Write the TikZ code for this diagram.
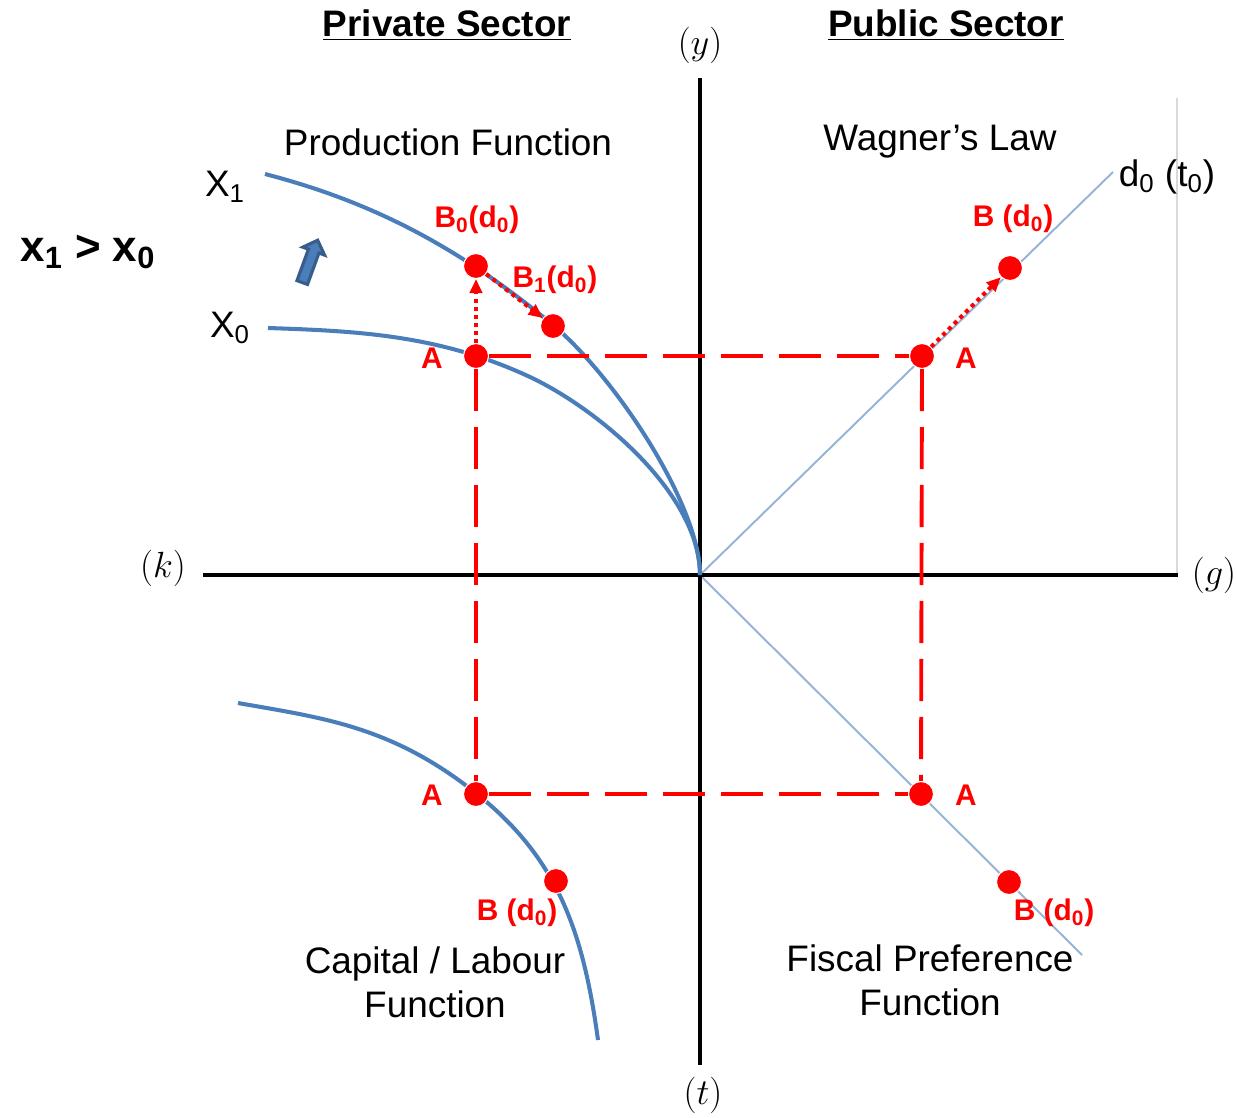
\documentclass[tikz,border=0pt]{standalone}
\usepackage{fontspec}
\setmainfont{Liberation Sans}
\usepackage{tikz}
\usetikzlibrary{arrows.meta,shapes.arrows}
\definecolor{curveblue}{RGB}{74,126,187}
\definecolor{lineblue}{RGB}{149,179,215}
\definecolor{arrowdark}{RGB}{56,93,138}
\definecolor{pointred}{RGB}{255,0,0}
\definecolor{framegray}{RGB}{217,217,217}

\begin{document}
\begin{tikzpicture}[x=0.02cm,y=-0.02cm,
  isoquant/.style={curveblue, line width=2.3pt},
  axisline/.style={black, line width=2.6pt},
  diag/.style={lineblue, line width=1.1pt},
  pointdot/.style={circle, fill=pointred, draw=white, line width=0.6pt, inner sep=0pt, minimum size=0.5cm},
  guide/.style={pointred, line width=2.2pt, dash pattern=on 24pt off 9pt},
  moveline/.style={pointred, line width=2.3pt, dash pattern=on 2.3pt off 2.3pt, -{Triangle[length=8pt,width=7pt]}},
  lbl/.style={font=\fontsize{21}{25}\selectfont},
  headlbl/.style={font=\bfseries\fontsize{21}{25}\selectfont},
  redlbl/.style={text=pointred, font=\bfseries\fontsize{17}{20}\selectfont},
  axlbl/.style={font=\fontsize{22}{26}\selectfont}
]
\useasboundingbox (0,0) rectangle (1237,1117);
% frame line at the right
\draw[framegray, line width=0.6pt] (1177,98) -- (1177,575);
% axes
\coordinate (O) at (700,575);
\coordinate (kend) at (203,575);
\coordinate (gend) at (1178,575);
\coordinate (yend) at (700,78);
\coordinate (tend) at (700,1065);
\coordinate (dup) at (1113,172);
\coordinate (ddown) at (1082,955);
\draw[diag] (O) -- (dup);
\draw[diag] (O) -- (ddown);
\draw[axisline] (kend) -- (gend);
\draw[axisline] (yend) -- (tend);
\node[axlbl] (ylbl) at (700,45) {$(y)$};
\node[axlbl] (klbl) at (163,568) {$(k)$};
\node[axlbl] (glbl) at (1214,575) {$(g)$};
\node[axlbl] (tlbl) at (703,1095) {$(t)$};
% production functions
\draw[isoquant] (265,174) .. controls (365,200) and (453,242) .. (553,325)
  .. controls (615,377) and (700,505) .. (O);
\draw[isoquant] (268,328) .. controls (358,331) and (440,335) .. (530,377)
  .. controls (600,410) and (700,495) .. (O);
% capital / labour function
\draw[isoquant] (238,703) .. controls (323,718) and (392,726) .. (477,794)
  .. controls (557,858) and (583,930) .. (598,1040);
% shift arrow
\node[single arrow, fill=curveblue, draw=arrowdark, line width=1.8pt, inner sep=0.08cm,
  minimum height=0.9cm, single arrow head extend=0.12cm, rotate=70] (upshift) at (309,264) {};
% points
\node[pointdot] (B0) at (476,266) {};
\node[pointdot] (B1) at (553,326) {};
\node[pointdot] (Aul) at (476,356) {};
\node[pointdot] (Aur) at (922,356) {};
\node[pointdot] (Bur) at (1010,268) {};
\node[pointdot] (All) at (476,794) {};
\node[pointdot] (Bll) at (556,881) {};
\node[pointdot] (Alr) at (921,794) {};
\node[pointdot] (Blr) at (1009,882) {};
\draw[guide] (Aul) -- (Aur);
\draw[guide] (Aul) -- (All);
\draw[guide] (All) -- (Alr);
\draw[guide] (Aur) -- (Alr);
\draw[moveline] (Aul) -- (B0);
\draw[moveline] (B0) -- (B1);
\draw[moveline] (Aur) -- (Bur);
% point labels
\node[redlbl] (B0lbl) at (477,220) {B\textsubscript{0}(d\textsubscript{0})};
\node[redlbl] (B1lbl) at (555,280) {B\textsubscript{1}(d\textsubscript{0})};
\node[redlbl] (Burlbl) at (1013,219) {B (d\textsubscript{0})};
\node[redlbl] (Blllbl) at (517,913) {B (d\textsubscript{0})};
\node[redlbl] (Blrlbl) at (1054,913) {B (d\textsubscript{0})};
\node[redlbl] (Aullbl) at (432,358) {A};
\node[redlbl] (Aurlbl) at (966,358) {A};
\node[redlbl] (Alllbl) at (432,795) {A};
\node[redlbl] (Alrlbl) at (966,795) {A};
% texts
\node[headlbl] (privlbl) at (447,25) {\underline{Private Sector}};
\node[headlbl] (publbl) at (946,25) {\underline{Public Sector}};
\node[lbl] (prodlbl) at (448,142) {Production Function};
\node[lbl] (wagnerlbl) at (940,142) {Wagner’s Law};
\node[lbl] (X1lbl) at (225,187) {X\textsubscript{1}};
\node[lbl] (X0lbl) at (230,328) {X\textsubscript{0}};
\node[lbl] (d0lbl) at (1167,177) {d\textsubscript{0} (t\textsubscript{0})};
\node[font=\bfseries\fontsize{25}{30}\selectfont] (cmplbl) at (88,252) {x\textsubscript{1} > x\textsubscript{0}};
\node[lbl, align=center] (caplbl) at (435,982) {Capital / Labour\\Function};
\node[lbl, align=center] (fisclbl) at (930,980) {Fiscal Preference\\Function};
\end{tikzpicture}
\end{document}
